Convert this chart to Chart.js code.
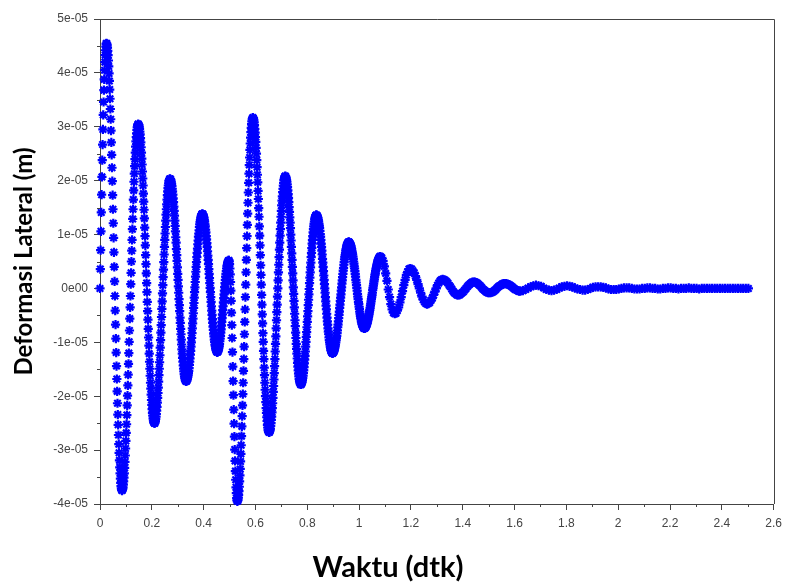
<!DOCTYPE html>
<html lang="id">
<head>
<meta charset="utf-8">
<title>Deformasi Lateral</title>
<script src="https://cdn.jsdelivr.net/npm/chart.js@4.4.1/dist/chart.umd.min.js"></script>
<style>
    html, body { margin: 0; padding: 0; background: #fff; }
    #grafik { display: block; }
</style>
</head>
<body>
<canvas id="grafik" width="788" height="585"></canvas>
<script>
"use strict";

// Deformasi lateral dalam mikrometer (1e-6 m)
// Blok A: mulai 0 dtk, tiap 0.0025 dtk
const mulaiA = 0;
const langkahA = 0.0025;
const deformasiA = [
    0, 7.1, 14.1, 20.7, 26.7, 32.2, 36.8, 40.5, 43.3, 44.9, 45.5,
    45.1, 44.1, 42.3, 39.9, 36.9, 33.3, 29.3, 24.8, 19.9, 14.7, 9.4, 4.0, -1.4, -6.7, -11.9, -16.8, -21.3, -25.3, -28.9, -31.9, -34.3, -36.1, -37.1, -37.5,
    -37.2, -36.4, -35.1, -33.3, -31.0, -28.3, -25.2, -21.7, -18.0, -14.0, -9.9, -5.6, -1.4, 2.9, 7.0, 11.0, 14.7, 18.2, 21.3, 24.0, 26.3, 28.1, 29.4, 30.2, 30.5,
    30.3, 29.6, 28.6, 27.1, 25.2, 23.0, 20.4, 17.6, 14.6, 11.3, 8.0, 4.5, 1.0, -2.5, -5.8, -9.1, -12.1, -14.9, -17.5, -19.7, -21.6, -23.1, -24.1, -24.8, -25.0,
    -24.8, -24.2, -23.3, -22.0, -20.3, -18.4, -16.1, -13.7, -11.0, -8.2, -5.3, -2.4, 0.6, 3.5, 6.3, 9.0, 11.4, 13.7, 15.6, 17.3, 18.6, 19.5, 20.1, 20.3,
    20.2, 19.7, 19.0, 18.0, 16.7, 15.2, 13.5, 11.6, 9.5, 7.3, 5.1, 2.7, 0.4, -2.0, -4.2, -6.4, -8.5, -10.4, -12.1, -13.6, -14.9, -15.9, -16.6, -17.1, -17.2,
    -17.1, -16.7, -16.1, -15.3, -14.2, -13.0, -11.6, -10.0, -8.3, -6.5, -4.6, -2.7, -0.7, 1.2, 3.1, 4.9, 6.6, 8.2, 9.6, 10.8, 11.9, 12.7, 13.3, 13.7, 13.8,
    13.7, 13.3, 12.7, 11.9, 10.9, 9.7, 8.4, 6.9, 5.3, 3.6, 1.9, 0.1, -1.6, -3.3, -4.9, -6.4, -7.7, -8.9, -9.9, -10.7, -11.3, -11.7, -11.8,
    -11.7, -11.3, -10.7, -9.8, -8.8, -7.6, -6.2, -4.8, -3.3, -1.8, -0.4, 1.0, 2.2, 3.2, 4.1, 4.7, 5.1, 5.2,
    4.5, 2.6, -0.4, -4.5, -9.2, -14.5, -19.8, -25.1, -29.9, -33.9, -36.9, -38.9, -39.5,
    -39.2, -38.3, -36.8, -34.7, -32.1, -29.1, -25.6, -21.7, -17.5, -13.1, -8.5, -3.9, 0.7, 5.3, 9.7, 13.9, 17.8, 21.3, 24.3, 26.9, 29.0, 30.5, 31.4, 31.7,
    31.5, 30.8, 29.6, 28.1, 26.1, 23.8, 21.1, 18.1, 14.9, 11.5, 8.0, 4.3, 0.7, -3.0, -6.5, -9.9, -13.1, -16.1, -18.8, -21.1, -23.1, -24.6, -25.8, -26.5, -26.7,
    -26.5, -26.0, -25.0, -23.8, -22.2, -20.3, -18.1, -15.7, -13.1, -10.3, -7.4, -4.4, -1.5, 1.5, 4.4, 7.2, 9.8, 12.2, 14.4, 16.3, 17.9, 19.1, 20.1, 20.6, 20.8,
    20.6, 20.1, 19.3, 18.2, 16.8, 15.1, 13.2, 11.2, 8.9, 6.5, 4.0, 1.5, -1.0, -3.5, -5.9, -8.2, -10.3, -12.1, -13.8, -15.2, -16.3, -17.1, -17.6, -17.8,
    -17.7, -17.3, -16.6, -15.7, -14.6, -13.2, -11.7, -9.9, -8.1, -6.2, -4.2, -2.1, -0.1, 2.0, 3.9, 5.8, 7.5, 9.0, 10.4, 11.5, 12.4, 13.1, 13.5, 13.6,
    13.5, 13.2, 12.7, 12.0, 11.2, 10.1, 9.0, 7.7, 6.3, 4.8, 3.2, 1.6, 0.0, -1.6, -3.2, -4.7, -6.1, -7.4, -8.5, -9.6, -10.4, -11.1, -11.6, -11.9, -12.0,
    -11.9, -11.7, -11.3, -10.7, -10.0, -9.2, -8.3, -7.2, -6.1, -4.9, -3.6, -2.3, -1.1, 0.2, 1.5, 2.7, 3.8, 4.9, 5.8, 6.6, 7.3, 7.9, 8.3, 8.5, 8.6,
    8.5, 8.3, 8.0, 7.5, 6.9, 6.3, 5.5, 4.6, 3.7, 2.7, 1.6, 0.6, -0.4, -1.5, -2.5, -3.4, -4.3, -5.1, -5.7, -6.3, -6.8, -7.1, -7.3, -7.4,
    -7.3, -7.2, -6.9, -6.6, -6.1, -5.6, -5.0, -4.3, -3.6, -2.8, -2.0, -1.2, -0.3, 0.5, 1.3, 2.1, 2.8, 3.5, 4.1, 4.6, 5.1, 5.4, 5.7, 5.9, 5.9
];

// Blok A2: titik di antara blok A, mulai 0.00125 dtk, tiap 0.0025 dtk
const mulaiA2 = 0.00125;
const langkahA2 = 0.0025;
const deformasiA2 = [
    3.6, 10.6, 17.4, 23.8, 29.5, 34.6, 38.8, 42.0, 44.2, 45.4,
    45.4, 44.7, 43.3, 41.2, 38.5, 35.2, 31.4, 27.1, 22.4, 17.3, 12.1, 6.7, 1.3, -4.1, -9.3, -14.4, -19.1, -23.4, -27.2, -30.5, -33.2, -35.3, -36.7, -37.4,
    -37.4, -36.9, -35.8, -34.3, -32.2, -29.7, -26.8, -23.5, -19.9, -16.0, -12.0, -7.8, -3.5, 0.8, 5.0, 9.0, 12.9, 16.5, 19.8, 22.7, 25.2, 27.3, 28.8, 29.9, 30.4,
    30.4, 30.0, 29.1, 27.9, 26.2, 24.1, 21.7, 19.1, 16.1, 13.0, 9.7, 6.2, 2.8, -0.7, -4.2, -7.5, -10.6, -13.6, -16.2, -18.6, -20.7, -22.4, -23.6, -24.5, -24.9,
    -25.0, -24.6, -23.8, -22.7, -21.2, -19.4, -17.3, -14.9, -12.4, -9.6, -6.8, -3.8, -0.9, 2.1, 4.9, 7.7, 10.2, 12.6, 14.7, 16.5, 18.0, 19.1, 19.9, 20.3,
    20.3, 20.0, 19.4, 18.5, 17.4, 16.0, 14.4, 12.6, 10.6, 8.5, 6.2, 3.9, 1.6, -0.8, -3.1, -5.4, -7.5, -9.5, -11.3, -12.9, -14.3, -15.4, -16.3, -16.9, -17.2,
    -17.2, -16.9, -16.4, -15.7, -14.8, -13.6, -12.3, -10.8, -9.2, -7.4, -5.6, -3.6, -1.7, 0.2, 2.2, 4.0, 5.8, 7.4, 8.9, 10.2, 11.4, 12.3, 13.0, 13.5, 13.8,
    13.8, 13.5, 13.1, 12.4, 11.5, 10.4, 9.1, 7.7, 6.1, 4.5, 2.7, 1.0, -0.7, -2.5, -4.1, -5.7, -7.1, -8.4, -9.5, -10.4, -11.1, -11.5, -11.8,
    -11.8, -11.5, -11.0, -10.3, -9.3, -8.2, -6.9, -5.5, -4.0, -2.6, -1.1, 0.3, 1.6, 2.7, 3.7, 4.4, 4.9, 5.2,
    5.0, 3.7, 1.2, -2.3, -6.8, -11.8, -17.2, -22.5, -27.5, -32.0, -35.5, -38.0, -39.3,
    -39.4, -38.8, -37.6, -35.8, -33.5, -30.7, -27.4, -23.7, -19.6, -15.3, -10.8, -6.2, -1.6, 3.0, 7.5, 11.8, 15.9, 19.6, 22.9, 25.7, 28.0, 29.8, 31.0, 31.6,
    31.6, 31.2, 30.3, 28.9, 27.2, 25.0, 22.5, 19.7, 16.6, 13.3, 9.8, 6.2, 2.5, -1.2, -4.8, -8.3, -11.6, -14.7, -17.5, -20.0, -22.2, -23.9, -25.3, -26.2, -26.6,
    -26.7, -26.3, -25.5, -24.4, -23.0, -21.3, -19.2, -16.9, -14.4, -11.7, -8.9, -5.9, -3.0, 0.0, 3.0, 5.8, 8.5, 11.0, 13.3, 15.4, 17.1, 18.5, 19.6, 20.4, 20.8,
    20.8, 20.4, 19.8, 18.8, 17.5, 16.0, 14.2, 12.2, 10.0, 7.7, 5.3, 2.8, 0.2, -2.3, -4.7, -7.0, -9.2, -11.2, -13.0, -14.5, -15.8, -16.8, -17.4, -17.8,
    -17.8, -17.5, -17.0, -16.2, -15.2, -13.9, -12.5, -10.8, -9.0, -7.2, -5.2, -3.1, -1.1, 1.0, 3.0, 4.8, 6.6, 8.3, 9.7, 11.0, 12.0, 12.8, 13.3, 13.6,
    13.6, 13.4, 13.0, 12.4, 11.6, 10.7, 9.6, 8.3, 7.0, 5.5, 4.0, 2.4, 0.8, -0.8, -2.4, -3.9, -5.4, -6.7, -8.0, -9.1, -10.0, -10.8, -11.4, -11.8, -12.0,
    -12.0, -11.8, -11.5, -11.0, -10.4, -9.6, -8.8, -7.8, -6.7, -5.5, -4.3, -3.0, -1.7, -0.4, 0.9, 2.1, 3.3, 4.4, 5.4, 6.2, 7.0, 7.6, 8.1, 8.4, 8.6,
    8.6, 8.4, 8.2, 7.8, 7.3, 6.6, 5.9, 5.0, 4.1, 3.2, 2.2, 1.1, 0.1, -1.0, -2.0, -2.9, -3.8, -4.7, -5.4, -6.1, -6.6, -7.0, -7.2, -7.4,
    -7.4, -7.3, -7.1, -6.8, -6.4, -5.9, -5.3, -4.7, -4.0, -3.2, -2.4, -1.6, -0.8, 0.1, 0.9, 1.7, 2.5, 3.2, 3.8, 4.4, 4.9, 5.3, 5.6, 5.8, 5.9
];

// Blok B: mulai 1.0875 dtk, tiap 0.005 dtk
const mulaiB = 1.0875;
const langkahB = 0.005;
const deformasiB = [
    5.7, 5.1, 4.1, 2.8, 1.4, -0.2, -1.6, -2.9, -3.9, -4.5, -4.7,
    -4.6, -4.1, -3.5, -2.6, -1.6, -0.5, 0.6, 1.6, 2.5, 3.1, 3.6, 3.7,
    3.6, 3.3, 2.9, 2.3, 1.6, 0.8, 0.0, -0.8, -1.5, -2.1, -2.5, -2.8, -2.9,
    -2.8, -2.6, -2.2, -1.8, -1.2, -0.6, 0.0, 0.6, 1.0, 1.4, 1.6, 1.7,
    1.6, 1.5, 1.3, 1.0, 0.6, 0.3, -0.1, -0.5, -0.8, -1.0, -1.2, -1.2,
    -1.2, -1.0, -0.8, -0.6, -0.3, 0.0, 0.3, 0.6, 0.8, 1.0, 1.2, 1.2,
    1.2, 1.1, 0.9, 0.7, 0.5, 0.2, -0.1, -0.3, -0.5, -0.7, -0.8, -0.8,
    -0.8, -0.7, -0.6, -0.4, -0.2, 0.1, 0.3, 0.5, 0.6, 0.8, 0.9, 0.9,
    0.9, 0.8, 0.7, 0.6, 0.4, 0.2, 0.0, -0.2, -0.3, -0.4, -0.5, -0.5
];

// Blok C: mulai 1.6325 dtk, tiap 0.01 dtk
const mulaiC = 1.6325;
const langkahC = 0.01;
const deformasiC = [
    -0.4, -0.2, 0.1, 0.3, 0.5, 0.6,
    0.5, 0.4, 0.1, -0.2, -0.3, -0.4,
    -0.3, -0.2, 0.1, 0.3, 0.4, 0.5,
    0.4, 0.3, 0.1, -0.1, -0.2, -0.3,
    -0.3, -0.2, 0.0, 0.2, 0.3, 0.3,
    0.3, 0.2, 0.1, -0.1, -0.2, -0.2,
    -0.2, -0.1, 0.0, 0.1, 0.1, 0.1,
    0.0, -0.1, -0.1, -0.1, 0.0, 0.0, 0.1, 0.1, 0.0, 0.0,
    -0.1, -0.1, 0.0, 0.0, 0.1, 0.1, 0.0, 0.0, -0.1, 0.0,
    0.0, 0.0, 0.1, 0.0, 0.0, 0.0, -0.1, 0.0, 0.0, 0.0,
    0.0, 0.0, 0.0, 0.0, 0.0, 0.0, 0.0, 0.0, 0.0, 0.0,
    0.0, 0.0, 0.0, 0.0, 0.0, 0.0
];

// Sumbu
const sumbuX = { min: 0, max: 2.6, langkah: 0.2, minor: 0.1 };
const sumbuY = { min: -4e-5, max: 5e-5, langkah: 1e-5, minor: 0.5e-5 };

const judulX = "Waktu (dtk)";
const judulY = "Deformasi Lateral (m)";

// Ubah blok ke titik {x, y} (y dalam meter)
function keTitik(mulai, langkah, nilai) {
    return nilai.map((v, i) => ({ x: mulai + i * langkah, y: v * 1e-6 }));
}

const titik = [
    ...keTitik(mulaiA, langkahA, deformasiA),
    ...keTitik(mulaiA2, langkahA2, deformasiA2),
    ...keTitik(mulaiB, langkahB, deformasiB),
    ...keTitik(mulaiC, langkahC, deformasiC)
];

// Label sumbu y gaya "5e-05", "0e00"
function labelEksponen(v) {
    if (Math.abs(v) < 1e-12) return "0e00";
    const s = v.toExponential(0);
    return s.replace(/e([+-])(\d)$/, "e$10$2").replace("e+", "e");
}

// Garis tepi atas/kanan dan tick minor
const bingkai = {
    id: "bingkai",
    afterDraw(chart) {
        const { ctx, chartArea: a, scales: { x, y } } = chart;
        ctx.save();
        ctx.strokeStyle = "#444";
        ctx.lineWidth = 1;
        ctx.beginPath();
        ctx.moveTo(a.left, Math.round(a.top) + 0.5);
        ctx.lineTo(Math.round(a.right) + 0.5, Math.round(a.top) + 0.5);
        ctx.lineTo(Math.round(a.right) + 0.5, a.bottom);
        for (let t = sumbuX.min + sumbuX.minor; t < sumbuX.max; t += sumbuX.langkah) {
            const px = Math.round(x.getPixelForValue(t)) + 0.5;
            ctx.moveTo(px, a.bottom);
            ctx.lineTo(px, a.bottom + 3);
        }
        for (let v = sumbuY.min + sumbuY.minor; v < sumbuY.max; v += sumbuY.langkah) {
            const py = Math.round(y.getPixelForValue(v)) + 0.5;
            ctx.moveTo(a.left, py);
            ctx.lineTo(a.left - 3, py);
        }
        ctx.stroke();
        ctx.restore();
    }
};

new Chart(document.getElementById("grafik"), {
    type: "scatter",
    data: {
        datasets: [{
            label: judulY,
            data: titik,
            pointStyle: "star",
            pointRadius: 4.6,
            pointBorderWidth: 2.2,
            borderColor: "#0000ff",
            backgroundColor: "#0000ff",
            clip: false
        }]
    },
    options: {
        responsive: false,
        animation: false,
        layout: {
            padding: { top: 19, right: 12, left: 0, bottom: 0 }
        },
        plugins: {
            legend: { display: false },
            tooltip: { enabled: false },
            title: {
                display: true,
                text: judulX,
                position: "bottom",
                color: "#000",
                font: { family: "Lato", size: 29, weight: "bold" },
                padding: { top: 2, bottom: 0 }
            }
        },
        scales: {
            x: {
                type: "linear",
                min: sumbuX.min,
                max: sumbuX.max,
                afterFit: scale => { scale.height = 44.2; },
                grid: { drawOnChartArea: false, tickLength: 6, color: "#444" },
                border: { color: "#444" },
                ticks: {
                    stepSize: sumbuX.langkah,
                    autoSkip: false,
                    maxRotation: 0,
                    padding: 6,
                    color: "#444",
                    font: { family: "Liberation Sans", size: 12 },
                    callback: v => String(Number(v.toFixed(1)))
                }
            },
            y: {
                type: "linear",
                min: sumbuY.min,
                max: sumbuY.max,
                afterFit: scale => { scale.width = 100; },
                grid: { drawOnChartArea: false, tickLength: 6, color: "#444" },
                border: { color: "#444" },
                title: {
                    display: true,
                    text: judulY,
                    color: "#000",
                    font: { family: "Lato", size: 24, weight: "bold" },
                    padding: { top: 10 }
                },
                ticks: {
                    stepSize: sumbuY.langkah,
                    autoSkip: false,
                    padding: 6,
                    color: "#444",
                    font: { family: "Liberation Sans", size: 12 },
                    callback: v => labelEksponen(v)
                }
            }
        }
    },
    plugins: [bingkai]
});
</script>
</body>
</html>
